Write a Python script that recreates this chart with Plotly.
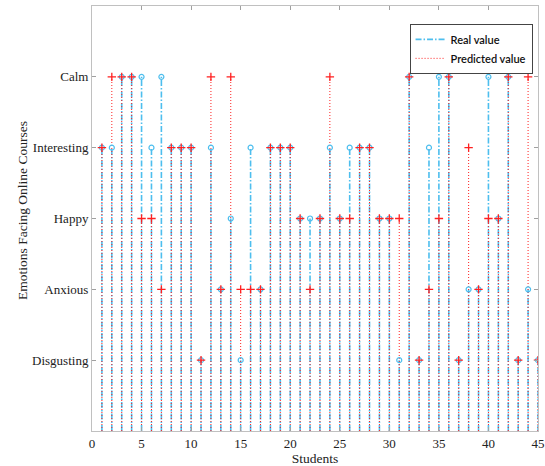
import plotly.graph_objects as go

students = list(range(1, 46))
# 1=Disgusting, 2=Anxious, 3=Happy, 4=Interesting, 5=Calm
real_values = [4, 4, 5, 5, 5, 4, 5, 4, 4, 4,
               1, 4, 2, 3, 1, 4, 2, 4, 4, 4,
               3, 3, 3, 4, 3, 4, 4, 4, 3, 3,
               1, 5, 1, 4, 5, 5, 1, 2, 2, 5,
               3, 5, 1, 2, 1]
predicted_values = [4, 5, 5, 5, 3, 3, 2, 4, 4, 4,
                    1, 5, 2, 5, 2, 2, 2, 4, 4, 4,
                    3, 2, 3, 5, 3, 3, 4, 4, 3, 3,
                    3, 5, 1, 2, 3, 5, 1, 4, 2, 3,
                    3, 5, 1, 5, 1]
y_tick_vals = [1, 2, 3, 4, 5]
y_tick_text = ["Disgusting", "Anxious", "Happy", "Interesting", "Calm"]
x_tick_vals = [0, 5, 10, 15, 20, 25, 30, 35, 40, 45]

REAL_C = "#4DBEEE"
PRED_C = "#FF2020"


def stems(xs, ys):
    sx, sy = [], []
    for x, y in zip(xs, ys):
        sx += [x, x, None]
        sy += [0, y, None]
    return sx, sy


fig = go.Figure()
rx, ry = stems(students, real_values)
px, py = stems(students, predicted_values)

fig.add_trace(go.Scatter(x=rx, y=ry, mode="lines", name="Real value",
                         line=dict(color=REAL_C, width=1.6, dash="6px,2px,1.5px,2px")))
fig.add_trace(go.Scatter(x=px, y=py, mode="lines", name="Predicted value",
                         line=dict(color=PRED_C, width=1, dash="1px,2px")))
fig.add_trace(go.Scatter(x=students, y=real_values, mode="markers", showlegend=False,
                         marker=dict(symbol="circle-open", size=5, color=REAL_C,
                                     line=dict(width=1.2, color=REAL_C))))
fig.add_trace(go.Scatter(x=students, y=predicted_values, mode="markers", showlegend=False,
                         marker=dict(symbol="cross-thin-open", size=6, color=PRED_C,
                                     line=dict(width=1.3, color=PRED_C))))

axis_common = dict(showgrid=False, zeroline=False, showline=True, linecolor="#C0C0C0",
                   linewidth=1, mirror="ticks", ticks="inside", ticklen=4,
                   tickcolor="#A0A0A0", automargin=False,
                   tickfont=dict(family="Liberation Serif", size=13, color="#222"))

fig.update_layout(
    width=545, height=466,
    margin=dict(l=92, r=7, t=6, b=35),
    plot_bgcolor="white", paper_bgcolor="white",
    xaxis=dict(range=[0, 45], tickvals=x_tick_vals,
               title=dict(text="Students", font=dict(family="Liberation Serif", size=13.5, color="#222")),
               **axis_common),
    yaxis=dict(range=[0, 6], tickvals=y_tick_vals, ticktext=y_tick_text, **axis_common),
    legend=dict(x=0.712, y=0.958, xanchor="left", yanchor="top",
                bordercolor="#444", borderwidth=1, bgcolor="white",
                font=dict(family="Lato", size=11, color="#111", weight=600),
                tracegroupgap=0, itemwidth=30),
    showlegend=True,
    annotations=[dict(text="Emotions Facing Online Courses", xref="paper", yref="paper",
                      x=-0.157, y=0.52, xanchor="center", yanchor="middle", textangle=-90,
                      showarrow=False,
                      font=dict(family="Liberation Serif", size=13.5, color="#222"))],
)

fig.write_html("out.html", config={"displayModeBar": False},
               post_script="document.body.style.margin='0';document.body.style.overflow='hidden';")
